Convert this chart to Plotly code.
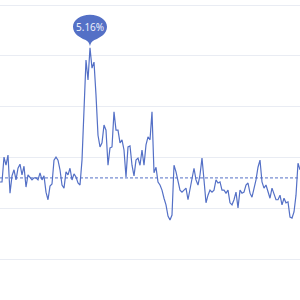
import plotly.graph_objects as go

# daily rate values (%)
rate = [2.52, 2.52, 3.01, 2.85, 3.05, 2.30, 2.64, 2.76, 2.56, 2.79,
        2.87, 2.66, 2.83, 2.42, 2.66, 2.62, 2.56, 2.60, 2.60, 2.56,
        2.70, 2.56, 2.64, 2.32, 2.17, 2.44, 2.48, 2.95, 3.01, 2.95,
        2.76, 2.46, 2.40, 2.72, 2.66, 2.79, 2.56, 2.68, 2.62, 2.50,
        2.46, 2.95, 4.04, 4.92, 4.53, 5.16, 4.76, 4.88, 4.23, 3.44,
        3.21, 3.29, 3.64, 3.54, 2.85, 3.19, 3.21, 3.90, 3.54, 3.54,
        3.29, 3.35, 3.15, 2.62, 3.21, 3.23, 2.85, 2.64, 2.95, 2.99,
        2.85, 3.15, 2.85, 3.25, 3.41, 3.35, 3.90, 2.70, 2.81, 2.52,
        2.46, 2.36, 2.20, 2.07, 1.85, 1.77, 1.87, 2.85, 2.72, 2.56,
        2.36, 2.32, 2.36, 2.40, 2.17, 2.36, 2.56, 2.79, 2.56, 2.46,
        2.66, 2.99, 2.56, 2.11, 2.26, 2.36, 2.32, 2.36, 2.56, 2.50,
        2.52, 2.36, 2.36, 2.30, 2.36, 2.11, 2.07, 2.17, 2.32, 2.01,
        2.36, 2.30, 2.32, 2.46, 2.50, 2.30, 2.22, 2.40, 2.56, 2.81,
        2.95, 2.52, 2.40, 2.46, 2.32, 2.20, 2.40, 2.26, 2.17, 2.17,
        2.26, 2.07, 2.20, 2.11, 2.13, 1.83, 1.81, 1.93, 2.26, 2.89,
        2.76]
idx = list(range(len(rate)))
avg_rate = 2.60

color = "#5470c6"

max_v = max(rate)
max_i = rate.index(max_v)

fig = go.Figure()
fig.add_trace(go.Scatter(x=idx, y=rate, mode="lines",
                         line=dict(color=color, width=1.2),
                         hoverinfo="skip"))

# average mark line
fig.add_shape(type="line", xref="paper", yref="y", x0=0, x1=1,
              y0=avg_rate, y1=avg_rate,
              line=dict(color=color, width=1, dash="3px,2px"))

# pin marker at max (pixel-sized, anchored at the data point)
pin = ("M -17 21 C -17 27.6 -9.4 33 0 33 C 9.4 33 17 27.6 17 21 "
       "C 17 14 10 10 5 8 C 2 6.5 0.5 5 0 1 "
       "C -0.5 5 -2 6.5 -5 8 C -10 10 -17 14 -17 21 Z")
fig.add_shape(type="path", xref="x", yref="y",
              xsizemode="pixel", ysizemode="pixel",
              xanchor=max_i, yanchor=max_v, path=pin,
              fillcolor=color, line=dict(width=0), layer="above")
fig.add_annotation(x=max_i, y=max_v, text=f"{max_v:.2f}%", showarrow=False,
                   yshift=21, font=dict(color="#eef1fb", size=10,
                                        family="Noto Sans"))

fig.update_layout(
    width=300, height=300,
    margin=dict(l=0, r=0, t=0, b=0),
    paper_bgcolor="white", plot_bgcolor="white",
    showlegend=False,
    xaxis=dict(range=[0, len(rate) - 1], showgrid=False, zeroline=False,
               showticklabels=False, showline=False),
    yaxis=dict(range=[0.197, 6.102], dtick=1, tick0=0, showgrid=True,
               gridcolor="#E9ECF3", gridwidth=1, zeroline=False,
               showticklabels=False, showline=False),
)

fig.write_html("out.html")
